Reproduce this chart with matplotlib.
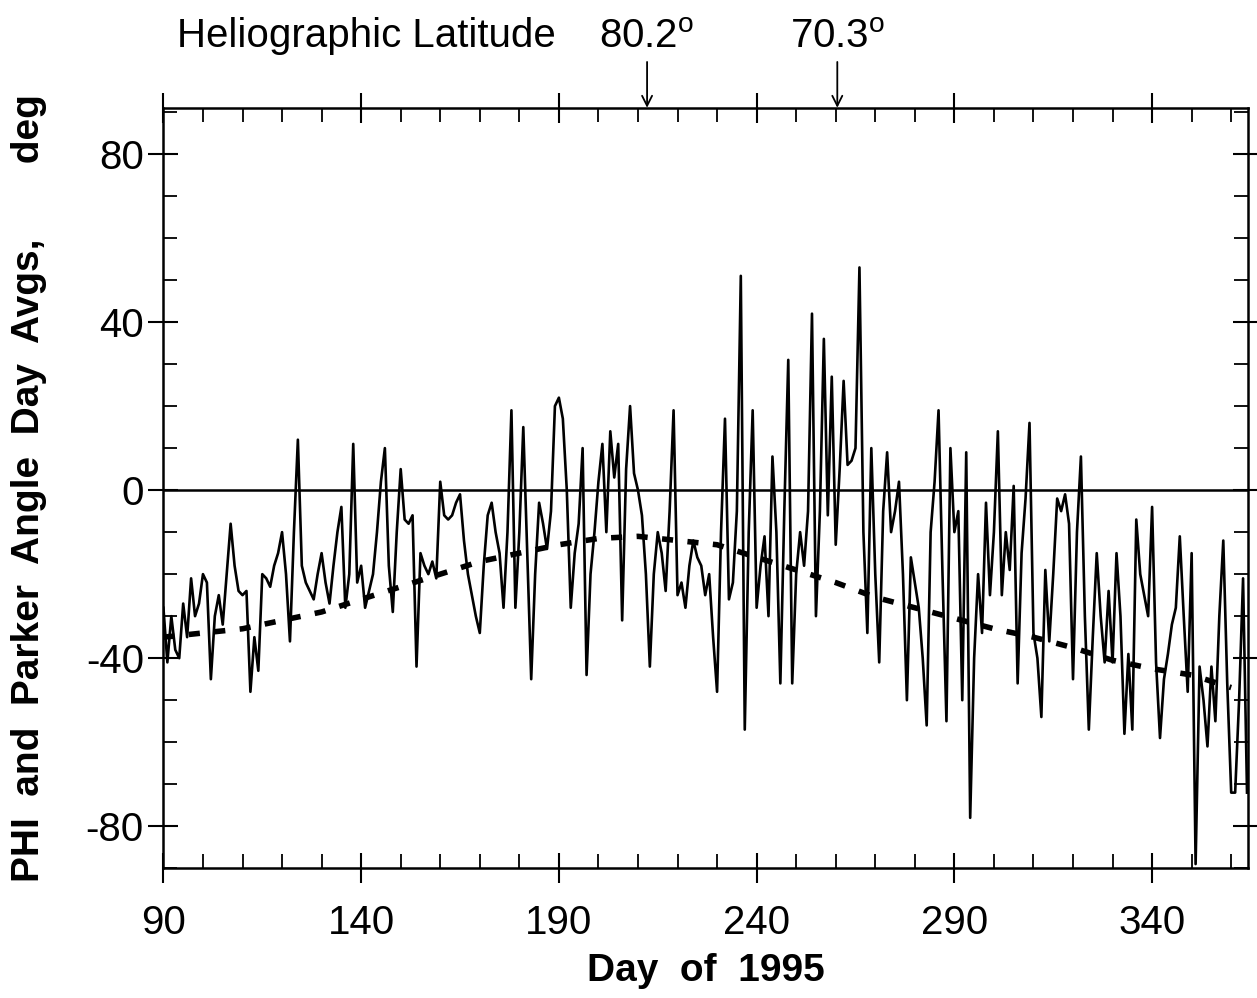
import numpy as np
import matplotlib.pyplot as plt
from matplotlib.ticker import MultipleLocator

plt.rcParams['font.family'] = ['Liberation Sans', 'DejaVu Sans']
plt.rcParams['mathtext.default'] = 'regular'
plt.rcParams['axes.unicode_minus'] = False

# Daily averages of PHI, day 90 .. 364 of 1995
days = np.arange(90, 365)
phi = [
    -28, -41, -30, -38, -40, -27, -35, -21, -30, -27,   # 90-99
    -20, -22, -45, -30, -25, -32, -20, -8, -18, -24,    # 100-109
    -25, -24, -48, -35, -43, -20, -21, -23, -18, -15,   # 110-119
    -10, -20, -36, -10, 12, -18, -22, -24, -26, -20,    # 120-129
    -15, -22, -27, -18, -10, -4, -28, -20, 11, -22,     # 130-139
    -18, -28, -24, -20, -10, 2, 10, -18, -29, -10,      # 140-149
    5, -7, -8, -6, -42, -15, -18, -20, -17, -21,        # 150-159
    2, -6, -7, -6, -3, -1, -12, -20, -25, -30,          # 160-169
    -34, -18, -6, -3, -10, -15, -28, -10, 19, -28,      # 170-179
    -10, 15, -15, -45, -20, -3, -8, -14, -5, 20,        # 180-189
    22, 17, 0, -28, -15, -8, 10, -44, -20, -10,         # 190-199
    2, 11, -10, 14, 3, 11, -31, 5, 20, 4,               # 200-209
    0, -6, -20, -42, -20, -10, -15, -24, -5, 19,        # 210-219
    -25, -22, -28, -18, -12, -16, -18, -25, -20, -35,   # 220-229
    -48, -10, 17, -26, -22, -5, 51, -57, -10, 19,       # 230-239
    -28, -18, -11, -30, 8, -10, -46, -5, 31, -46,       # 240-249
    -20, -10, -18, -5, 42, -30, -5, 36, -6, 27,         # 250-259
    -13, 5, 26, 6, 7, 10, 53, -10, -34, 10,             # 260-269
    -20, -41, -5, 9, -10, -5, 2, -20, -50, -16,         # 270-279
    -22, -28, -40, -56, -10, 2, 19, -20, -55, 10,       # 280-289
    -10, -5, -50, 9, -78, -40, -20, -34, -3, -25,       # 290-299
    -10, 14, -25, -10, -19, 1, -46, -15, -2, 16,        # 300-309
    -34, -40, -54, -19, -36, -20, -2, -5, -1, -8,       # 310-319
    -45, -10, 8, -30, -57, -35, -15, -30, -41, -24,     # 320-329
    -41, -15, -30, -58, -39, -57, -7, -20, -25, -30,    # 330-339
    -4, -41, -59, -45, -39, -32, -28, -11, -30, -48,    # 340-349
    -15, -89, -42, -50, -61, -42, -55, -30, -12, -46,   # 350-359
    -72, -72, -50, -21, -72,                            # 360-364
]

# Parker spiral angle (dashed curve)
parker_days = [90, 100, 110, 120, 130, 140, 150, 160, 170, 180, 190, 200, 210,
               220, 230, 240, 250, 260, 270, 280, 290, 300, 310, 320, 330, 340,
               350, 360]
parker = [-35, -34, -33, -31, -29, -26, -23, -20, -17, -15, -13, -11.5, -11,
          -12, -13, -16, -19, -22, -25.5, -28, -30.5, -33, -35, -37.5, -40.5,
          -42.5, -44, -47]

# heliographic latitude markers on the top axis
lat_days = [212.3, 260.4]
lat_labels = ['80.2', '70.3']

fig = plt.figure(figsize=(12.57, 9.98), dpi=100)
ax = fig.add_axes([0.130, 0.130, 0.863, 0.762])

ax.plot(days, phi, color='black', lw=1.9)
ax.plot(parker_days, parker, color='black', lw=4.0, linestyle=(0, (2.0, 2.6)))
ax.axhline(0, color='black', lw=1.8)

ax.set_xlim(90, 364.3)
ax.set_ylim(-90, 91)

ax.xaxis.set_minor_locator(MultipleLocator(10))
ax.yaxis.set_major_locator(MultipleLocator(40))
ax.yaxis.set_minor_locator(MultipleLocator(10))
ax.set_xticks([90, 140, 190, 240, 290, 340])

ax.tick_params(which='major', direction='inout', length=22, width=1.5,
               top=True, right=True, labelsize=29, pad=3)
ax.tick_params(which='minor', direction='in', length=10, width=1.3,
               top=True, right=True)
ax.tick_params(axis='x', which='major', pad=15)
for s in ax.spines.values():
    s.set_linewidth(1.8)

ax.set_xlabel('Day  of  1995', fontsize=28, fontweight='bold', labelpad=8)
ax.set_ylabel('PHI  and  Parker  Angle  Day  Avgs,       deg', fontsize=28,
              fontweight='bold', labelpad=28)

# top annotation
fig.text(0.141, 0.964, 'Heliographic Latitude', fontsize=29, va='center')
for d, lab in zip(lat_days, lat_labels):
    ax.annotate(lab + r'$^{o}$', xy=(d, 91), xycoords='data',
                xytext=(0, 37), textcoords='offset points',
                ha='center', va='bottom', fontsize=29,
                arrowprops=dict(arrowstyle='->', color='black', lw=1.3,
                                mutation_scale=18, shrinkA=2, shrinkB=0),
                annotation_clip=False)

plt.savefig('out.png', dpi=100)
